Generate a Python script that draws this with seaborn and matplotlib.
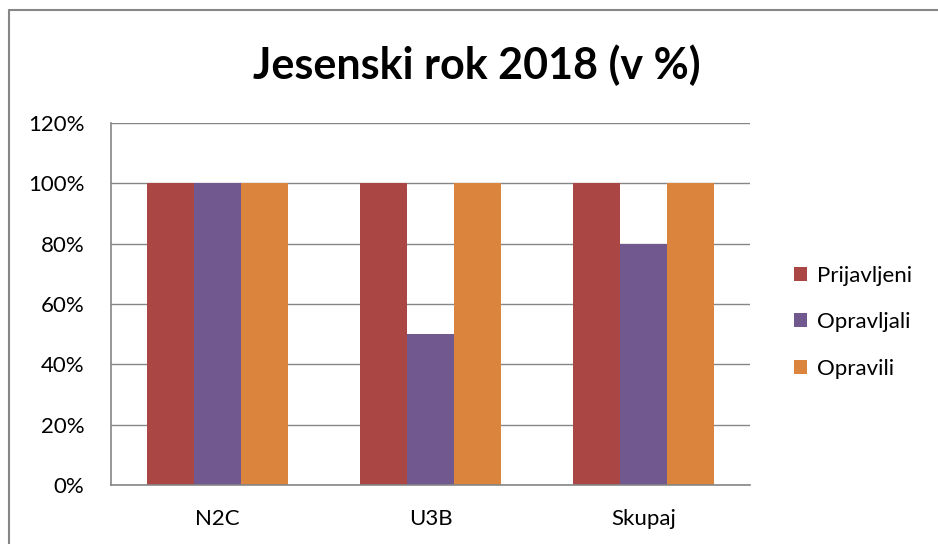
import numpy as np
import pandas as pd
import seaborn as sns
import matplotlib.pyplot as plt
from matplotlib.lines import Line2D
from matplotlib.ticker import PercentFormatter

# data
categories = ['N2C', 'U3B', 'Skupaj']
series = ['Prijavljeni', 'Opravljali', 'Opravili']
prijavljeni = [100, 100, 100]
opravljali = [100, 50, 80]
opravili = [100, 100, 100]
colors = ['#AA4643', '#71588F', '#DB843D']

df = pd.DataFrame({
    'kategorija': categories * 3,
    'serija': [s for s in series for _ in categories],
    'vrednost': prijavljeni + opravljali + opravili,
})

sns.set_style('white')
plt.rcParams['font.family'] = ['Lato', 'DejaVu Sans']
plt.rcParams['text.color'] = 'black'

fig = plt.figure(figsize=(9.38, 5.44), dpi=100)
ax = fig.add_axes([0.118, 0.108, 0.682, 0.666])

sns.barplot(data=df, x='kategorija', y='vrednost', hue='serija',
            hue_order=series, palette=colors, width=0.66,
            saturation=1, edgecolor='none', ax=ax, legend=True)

ax.set_ylim(0, 120)
ax.set_xlim(-0.5, 2.5)
ax.set_yticks(np.arange(0, 121, 20))
ax.yaxis.set_major_formatter(PercentFormatter(decimals=0))
ax.grid(axis='y', color='#868686', linewidth=1)
ax.set_axisbelow(True)
ax.set_xlabel('')
ax.set_ylabel('')
ax.tick_params(axis='both', length=0, labelsize=16, colors='black')
ax.tick_params(axis='x', pad=17)
ax.tick_params(axis='y', pad=19)

for side in ['top', 'right']:
    ax.spines[side].set_visible(False)
for side in ['left', 'bottom']:
    ax.spines[side].set_color('#868686')
    ax.spines[side].set_linewidth(1.2)

handles, labels = ax.get_legend_handles_labels()
ax.legend(handles, labels, loc='center left', bbox_to_anchor=(1.037, 0.45),
          frameon=False, fontsize=16, handlelength=0.6, handleheight=0.6,
          handletextpad=0.45, labelspacing=1.2, labelcolor='black')

fig.text(0.508, 0.88, 'Jesenski rok 2018 (v %)', ha='center', va='center',
         fontsize=31, fontweight='bold', color='black')

# chart frame (top and left edges visible)
fig.add_artist(Line2D([0.0096, 1.0], [0.982, 0.982], transform=fig.transFigure,
                      color='#868686', linewidth=1.5))
fig.add_artist(Line2D([0.0096, 0.0096], [0.0, 0.982], transform=fig.transFigure,
                      color='#868686', linewidth=1.5))

fig.savefig('out.png', dpi=100)
